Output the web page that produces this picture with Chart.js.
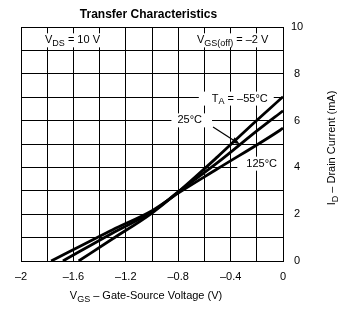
<!DOCTYPE html>
<html>
<head>
<meta charset="utf-8">
<script src="https://cdn.jsdelivr.net/npm/chart.js@4/dist/chart.umd.min.js"></script>
<style>
  html, body { margin: 0; padding: 0; background: #fff; }
</style>
</head>
<body>
<canvas id="chart" width="342" height="311"></canvas>
<script>
// values: gate-source voltage (V) and drain current (mA)
var vgsCold = [-1.56, -1.3, -1.0, -0.8, -0.5, -0.28, 0];
var idCold  = [0, 0.95, 2.05, 2.95, 4.45, 5.6, 7.02];

var vgsRoom = [-1.68, -1.3, -1.0, -0.8, -0.5, -0.19, 0];
var idRoom  = [0, 1.2, 2.1, 2.95, 4.2, 5.6, 6.42];

var vgsHot  = [-1.77, -1.3, -1.0, -0.8, -0.5, -0.02, 0];
var idHot   = [0, 1.34, 2.15, 2.9, 3.94, 5.6, 5.68];

var xTicks = [-2, -1.6, -1.2, -0.8, -0.4, 0];
var yTicks = [0, 2, 4, 6, 8, 10];

var FONT = "'Liberation Sans', Arial, sans-serif";
Chart.defaults.font.family = FONT;
Chart.defaults.color = '#000';

function toPoints(xs, ys) {
  return xs.map(function(x, i) { return { x: x, y: ys[i] }; });
}

// text with subscripts: parts = [[text, isSub], ...]
function richWidth(ctx, parts, size) {
  var w = 0;
  parts.forEach(function(p) {
    ctx.font = (p[1] ? Math.round(size * 0.78) : size) + 'px ' + FONT;
    w += ctx.measureText(p[0]).width;
  });
  return w;
}

function drawRich(ctx, parts, cx, cy, size) {
  var x = cx - richWidth(ctx, parts, size) / 2;
  ctx.textAlign = 'left';
  ctx.textBaseline = 'middle';
  parts.forEach(function(p) {
    var s = p[1] ? Math.round(size * 0.78) : size;
    ctx.font = s + 'px ' + FONT;
    ctx.fillText(p[0], x, cy + (p[1] ? size * 0.28 : 0));
    x += ctx.measureText(p[0]).width;
  });
}

// labels placed in data units: x = V, y = mA
var notes = [
  { parts: [['V', 0], ['DS', 1], [' = 10 V', 0]], x: -1.607, y: 9.43, padL: 10, padR: 18 },
  { parts: [['V', 0], ['GS(off)', 1], [' = \u20132 V', 0]], x: -0.384, y: 9.43, padL: 10, padR: 7 },
  { parts: [['T', 0], ['A', 1], [' = \u201355\u00b0C', 0]], x: -0.33, y: 6.94, padL: 13, padR: 6 },
  { parts: [['25\u00b0C', 0]], x: -0.712, y: 6.01, padL: 6, padR: 10 },
  { parts: [['125\u00b0C', 0]], x: -0.163, y: 4.16, padL: 9, padR: 6 }
];
var arrow = { x1: -0.534, y1: 5.73, x2: -0.33, y2: 4.99 };

var notesPlugin = {
  id: 'notes',
  beforeDatasetsDraw: function(chart) {
    var ctx = chart.ctx, xs = chart.scales.x, ys = chart.scales.y;
    ctx.save();
    notes.forEach(function(n) {
      var cx = xs.getPixelForValue(n.x), cy = ys.getPixelForValue(n.y);
      var w = richWidth(ctx, n.parts, 11);
      ctx.fillStyle = '#fff';
      ctx.fillRect(cx - w / 2 - n.padL, cy - 7, w + n.padL + n.padR, 14);
      ctx.fillStyle = '#000';
      drawRich(ctx, n.parts, cx, cy, 11);
    });
    ctx.restore();
  },
  afterDraw: function(chart) {
    var ctx = chart.ctx, xs = chart.scales.x, ys = chart.scales.y;
    ctx.save();
    // arrow from 25°C label
    var ax1 = xs.getPixelForValue(arrow.x1), ay1 = ys.getPixelForValue(arrow.y1);
    var ax2 = xs.getPixelForValue(arrow.x2), ay2 = ys.getPixelForValue(arrow.y2);
    var ang = Math.atan2(ay2 - ay1, ax2 - ax1);
    ctx.strokeStyle = '#000';
    ctx.fillStyle = '#000';
    ctx.lineWidth = 1.2;
    ctx.beginPath();
    ctx.moveTo(ax1, ay1);
    ctx.lineTo(ax2 - 6 * Math.cos(ang), ay2 - 6 * Math.sin(ang));
    ctx.stroke();
    ctx.beginPath();
    ctx.moveTo(ax2, ay2);
    ctx.lineTo(ax2 - 8 * Math.cos(ang) + 3 * Math.sin(ang), ay2 - 8 * Math.sin(ang) - 3 * Math.cos(ang));
    ctx.lineTo(ax2 - 8 * Math.cos(ang) - 3 * Math.sin(ang), ay2 - 8 * Math.sin(ang) + 3 * Math.cos(ang));
    ctx.closePath();
    ctx.fill();

    // title
    ctx.font = 'bold 12px ' + FONT;
    ctx.textAlign = 'center';
    ctx.textBaseline = 'middle';
    ctx.fillText('Transfer Characteristics', 148.5, 15);

    // x axis title
    drawRich(ctx, [['V', 0], ['GS', 1], [' \u2013 Gate-Source Voltage (V)', 0]], 146, 296, 11);

    // right axis title
    ctx.translate(332, 148);
    ctx.rotate(-Math.PI / 2);
    drawRich(ctx, [['I', 0], ['D', 1], [' \u2013 Drain Current (mA)', 0]], 0, 0, 11);
    ctx.restore();
  }
};

var lineStyle = {
  borderColor: '#000',
  borderWidth: 2.8,
  pointRadius: 0,
  fill: false,
  cubicInterpolationMode: 'monotone'
};

new Chart(document.getElementById('chart'), {
  type: 'line',
  data: {
    datasets: [
      Object.assign({ label: '-55°C', data: toPoints(vgsCold, idCold) }, lineStyle),
      Object.assign({ label: '25°C', data: toPoints(vgsRoom, idRoom) }, lineStyle),
      Object.assign({ label: '125°C', data: toPoints(vgsHot, idHot) }, lineStyle)
    ]
  },
  options: {
    responsive: false,
    animation: false,
    devicePixelRatio: 1,
    layout: { padding: { left: 21, top: 27, right: 0, bottom: 0 } },
    plugins: { legend: { display: false }, tooltip: { enabled: false } },
    scales: {
      x: {
        type: 'linear',
        min: -2,
        max: 0,
        grid: { color: '#000', lineWidth: 1, drawTicks: false },
        border: { color: '#000', width: 1 },
        ticks: {
          stepSize: 0.2,
          padding: 9,
          maxRotation: 0,
          autoSkip: false,
          font: { size: 11 },
          callback: function(v) {
            var r = Math.round(v * 10);
            var hit = xTicks.find(function(t) { return Math.round(t * 10) === r; });
            if (hit === undefined) return '';
            return hit === 0 ? '0' : '\u2013' + Math.abs(hit);
          }
        },
        afterFit: function(s) { s.height = 50; }
      },
      y: {
        position: 'right',
        min: 0,
        max: 10,
        grid: { color: '#000', lineWidth: 1, drawTicks: false },
        border: { color: '#000', width: 1 },
        ticks: {
          stepSize: 1,
          padding: 8,
          crossAlign: 'center',
          font: { size: 11 },
          callback: function(v) { return yTicks.indexOf(v) >= 0 ? String(v) : ''; }
        },
        afterFit: function(s) { s.width = 59; }
      }
    }
  },
  plugins: [notesPlugin]
});
</script>
</body>
</html>
